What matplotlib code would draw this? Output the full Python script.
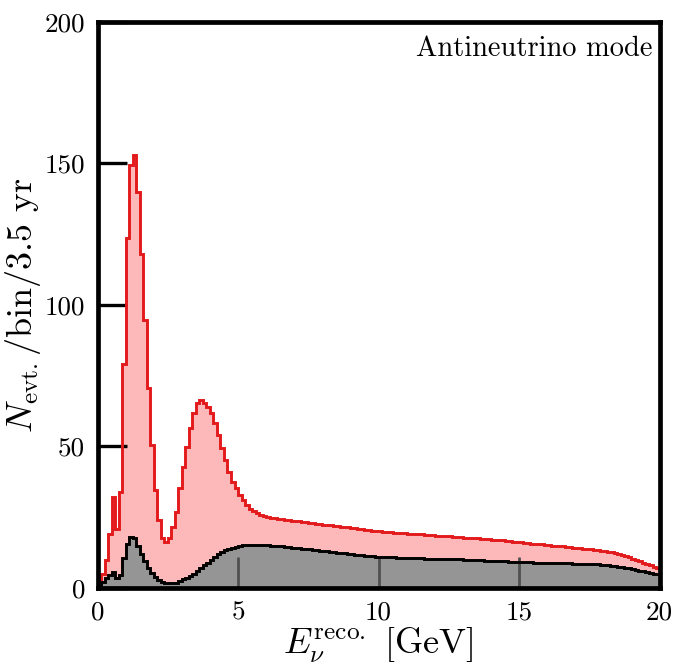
import numpy as np
import matplotlib
matplotlib.use("Agg")
import matplotlib.pyplot as plt

plt.rcParams["font.family"] = "serif"
plt.rcParams["font.serif"] = ["cmr10", "DejaVu Serif"]
plt.rcParams["mathtext.fontset"] = "cm"
plt.rcParams["axes.unicode_minus"] = False
plt.rcParams["axes.formatter.use_mathtext"] = True

# Reconstructed-energy binning: 0.125 GeV bins from 0 to 20 GeV
bin_width = 0.125
n_bins = 160
bin_edges = np.arange(n_bins + 1) * bin_width

# Total events per bin (antineutrino mode)
total_events = [
    1.5, 5.0, 10.0, 19.0, 32.0, 21.0, 34.0, 79.0,
    123.6, 149.5, 153.0, 140.0, 118.0, 94.7, 70.6, 50.5,
    34.6, 24.0, 17.5, 16.4, 17.5, 21.7, 27.0, 35.2,
    42.9, 49.9, 56.4, 61.7, 65.3, 66.4, 65.3, 64.0,
    61.7, 58.2, 54.0, 49.4, 45.2, 41.1, 37.6, 35.2,
    32.9, 31.1, 29.3, 28.0, 27.2, 26.5, 25.9, 25.4,
    25.0, 24.8, 24.6, 24.4, 24.3, 24.1, 23.9, 23.8,
    23.6, 23.5, 23.3, 23.2, 23.0, 22.9, 22.7, 22.6,
    22.4, 22.3, 22.1, 22.0, 21.8, 21.7, 21.5, 21.4,
    21.2, 21.1, 20.9, 20.8, 20.6, 20.5, 20.3, 20.2,
    20.0, 19.9, 19.8, 19.7, 19.6, 19.5, 19.4, 19.3,
    19.2, 19.1, 19.0, 19.0, 18.9, 18.8, 18.7, 18.6,
    18.5, 18.4, 18.3, 18.3, 18.2, 18.1, 18.0, 17.9,
    17.8, 17.8, 17.7, 17.6, 17.5, 17.4, 17.3, 17.2,
    17.1, 17.0, 16.9, 16.8, 16.6, 16.5, 16.4, 16.2,
    16.1, 16.0, 15.9, 15.7, 15.6, 15.5, 15.4, 15.2,
    15.1, 15.0, 14.9, 14.8, 14.7, 14.5, 14.4, 14.3,
    14.2, 14.0, 13.9, 13.8, 13.6, 13.5, 13.3, 13.2,
    13.0, 12.8, 12.6, 12.3, 12.0, 11.6, 11.2, 10.8,
    10.4, 10.0, 9.5, 9.0, 8.5, 8.0, 7.5, 7.0,
]

# Background events per bin
background_events = [
    0.5, 2.0, 3.4, 4.5, 5.8, 3.5, 4.5, 10.5,
    15.5, 18.0, 17.8, 14.8, 12.0, 9.5, 7.2, 5.2,
    3.8, 2.8, 2.2, 1.8, 1.6, 1.6, 1.9, 2.4,
    3.0, 3.6, 4.3, 5.1, 6.0, 7.0, 8.0, 9.0,
    10.0, 11.0, 11.9, 12.6, 13.3, 13.8, 14.3, 14.6,
    14.9, 15.1, 15.2, 15.3, 15.3, 15.3, 15.3, 15.2,
    15.1, 15.0, 14.9, 14.8, 14.7, 14.6, 14.5, 14.3,
    14.2, 14.1, 13.9, 13.8, 13.7, 13.5, 13.4, 13.2,
    13.1, 12.9, 12.8, 12.7, 12.5, 12.4, 12.2, 12.1,
    11.9, 11.8, 11.7, 11.6, 11.4, 11.3, 11.2, 11.1,
    11.0, 10.95, 10.9, 10.85, 10.8, 10.75, 10.7, 10.65,
    10.6, 10.55, 10.5, 10.5, 10.45, 10.4, 10.4, 10.35,
    10.3, 10.3, 10.25, 10.2, 10.2, 10.15, 10.1, 10.1,
    10.0, 10.0, 9.95, 9.9, 9.85, 9.8, 9.7, 9.65,
    9.6, 9.55, 9.5, 9.45, 9.4, 9.35, 9.3, 9.25,
    9.2, 9.15, 9.1, 9.05, 9.0, 8.95, 8.9, 8.9,
    8.85, 8.8, 8.8, 8.75, 8.7, 8.7, 8.65, 8.6,
    8.6, 8.55, 8.5, 8.45, 8.4, 8.35, 8.3, 8.2,
    8.1, 8.0, 7.9, 7.7, 7.5, 7.3, 7.1, 6.9,
    6.6, 6.4, 6.1, 5.9, 5.6, 5.4, 5.1, 4.9,
]

x_ticks = [0, 5, 10, 15, 20]
y_ticks = [0, 50, 100, 150, 200]

fig = plt.figure(figsize=(6.8, 6.68), dpi=100)
ax = fig.add_axes([0.1434, 0.1198, 0.8265, 0.8473])

ax.stairs(total_events, bin_edges, fill=True, color="#fdb9b9", zorder=1)
ax.stairs(background_events, bin_edges, fill=True, color="#959595", zorder=1.1)
ax.stairs(total_events, bin_edges, color="#e31a1c", lw=2.1, zorder=2)
ax.stairs(background_events, bin_edges, color="black", lw=2.1, zorder=2.1)

ax.set_xlim(0, 20)
ax.set_ylim(0, 200)
ax.set_xticks(x_ticks)
ax.set_yticks(y_ticks)
ax.set_xticklabels([str(t) for t in x_ticks])
ax.set_yticklabels([str(t) for t in y_ticks])

for s in ax.spines.values():
    s.set_linewidth(3.4)
    s.set_zorder(5)

ax.tick_params(axis="y", direction="in", length=21, width=2.4, color="black",
               labelsize=19.5, pad=9)
ax.tick_params(axis="x", direction="in", length=22, width=2.0, color="#505050",
               labelsize=19.5, pad=9)

ax.set_xlabel(r"$E_\nu^{\rm reco.}$ [GeV]", fontsize=26, labelpad=1)
ax.set_ylabel(r"$N_{\rm evt.}/{\rm bin}/3.5$ yr", fontsize=26)
ax.yaxis.set_label_coords(-0.097, 0.5)

ax.text(0.988, 0.975, "Antineutrino mode", transform=ax.transAxes,
        ha="right", va="top", fontsize=20.5)

fig.savefig("out.png", dpi=100)
